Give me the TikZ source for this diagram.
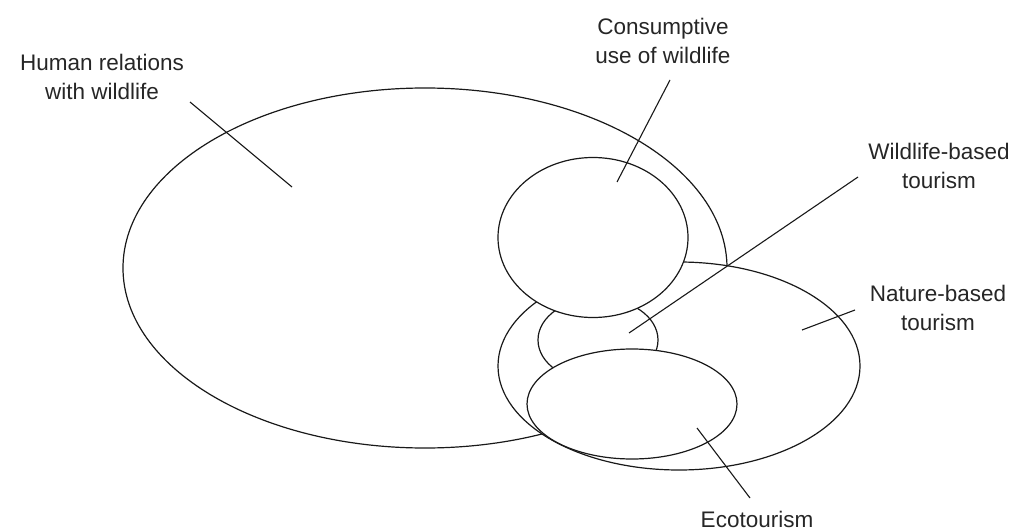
\documentclass[tikz,border=0pt]{standalone}
\usepackage{fontspec}
\setmainfont{Liberation Sans}
\begin{document}
\begin{tikzpicture}[x=1pt,y=-1pt,
  set/.style={draw=black!90,line width=1.2pt,fill=white},
  leader/.style={draw=black!90,line width=1.1pt},
  lbl/.style={text=black!85,font=\fontsize{22.5}{29}\selectfont,align=center,inner sep=0pt}]
\useasboundingbox (0,0) rectangle (1022,532);
% sets (drawn in order, white fill hides overlaps)
\draw[set] (425,268) ellipse [x radius=302,y radius=180];
\draw[set] (679,366) ellipse [x radius=181,y radius=104];
\draw[set] (598,340) ellipse [x radius=60,y radius=42];
\draw[set] (593,237.5) ellipse [x radius=95,y radius=80];
\draw[set] (632,404) ellipse [x radius=105,y radius=55];
% labels
\node[lbl] (human) at (102,77) {Human relations\\with wildlife};
\node[lbl] (cons) at (663,41) {Consumptive\\use of wildlife};
\node[lbl] (wild) at (939,166) {Wildlife-based\\tourism};
\node[lbl] (nat) at (938,308) {Nature-based\\tourism};
\node[lbl] (eco) at (757,519) {Ecotourism};
% leader ends
\coordinate (h1) at (190,102); \coordinate (h2) at (292,187);
\coordinate (c1) at (670,80);  \coordinate (c2) at (617,182);
\coordinate (w1) at (858,177); \coordinate (w2) at (629,333);
\coordinate (n1) at (855,310); \coordinate (n2) at (802,330);
\coordinate (e1) at (750,498); \coordinate (e2) at (697,428);
\draw[leader] (h1) -- (h2);
\draw[leader] (c1) -- (c2);
\draw[leader] (w1) -- (w2);
\draw[leader] (n1) -- (n2);
\draw[leader] (e1) -- (e2);
\end{tikzpicture}
\end{document}
